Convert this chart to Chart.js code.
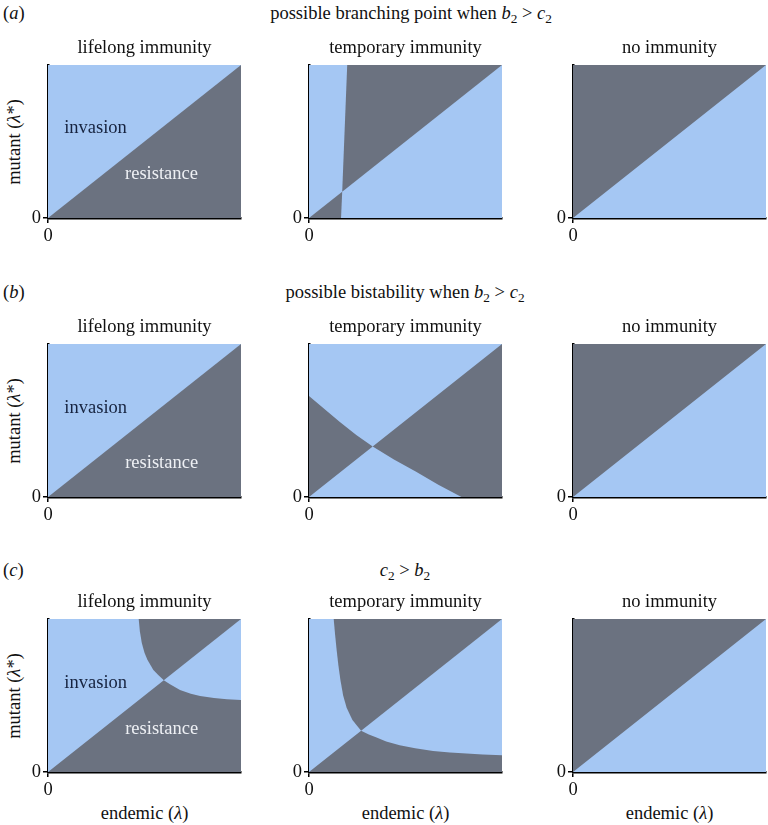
<!DOCTYPE html>
<html><head><meta charset="utf-8">
<script src="https://cdn.jsdelivr.net/npm/chart.js@4.4.1/dist/chart.umd.min.js"></script>
<style>
html,body{margin:0;padding:0;width:768px;height:825px;overflow:hidden;background:#fff;}
body{position:relative;font-family:'Liberation Serif','Times New Roman',Times,'DejaVu Serif',serif;color:#111;}
.t{position:absolute;font-size:18.5px;line-height:22px;white-space:nowrap;}
.s{font-size:0.72em;vertical-align:-0.3em;line-height:0;}
canvas{position:absolute;}
</style></head><body>
<script>
// ---------- data ----------
const panelTitles = ['lifelong immunity', 'temporary immunity', 'no immunity'];
const rowLetters = ['a', 'b', 'c'];
const rowTitles = [
  'possible branching point when <i>b</i><span class="s">2</span> &gt; <i>c</i><span class="s">2</span>',
  'possible bistability when <i>b</i><span class="s">2</span> &gt; <i>c</i><span class="s">2</span>',
  '<i>c</i><span class="s">2</span> &gt; <i>b</i><span class="s">2</span>'
];
const yAxisLabel = 'mutant (<i>λ</i>*)';
const xAxisLabel = 'endemic (<i>λ</i>)';
const tickLabels = ['0'];
const regionLabelText = ['invasion', 'resistance'];
// label anchor points (endemic, mutant) per row, lifelong panel
const invasionPos = [[0.246, 0.585], [0.247, 0.584], [0.247, 0.584]];
const resistancePos = [[0.588, 0.287], [0.589, 0.22], [0.589, 0.279]];

// region boundaries (endemic, mutant)
const fullSquare = [[0, 1], [0, 0], [1, 0], [1, 1]];
const belowDiagonal = [[0, 0], [1, 0], [1, 1]];
const aboveDiagonal = [[0, 1], [0, 0], [1, 1]];
const a2Lower = [[0, 0], [0.166, 0], [0.172, 0.172]];
const a2Upper = [[0.172, 0.172], [0.198, 1], [1, 1]];
const b2Curve = [[0, 0.66], [0.08, 0.575], [0.16, 0.49], [0.245, 0.405], [0.33, 0.33],
                 [0.44, 0.245], [0.555, 0.165], [0.67, 0.08], [0.79, 0]];
const c1UpperBranch = [[0.47, 1], [0.476, 0.92], [0.486, 0.843], [0.50, 0.78], [0.515, 0.733],
                       [0.546, 0.667], [0.57, 0.635], [0.6, 0.6]];
const c1LowerBranch = [[0.6, 0.6], [0.63, 0.575], [0.684, 0.536], [0.74, 0.512], [0.788, 0.497],
                       [0.86, 0.483], [0.927, 0.475], [1, 0.47]];
const c2UpperBranch = [[0.128, 1], [0.135, 0.9], [0.143, 0.8], [0.152, 0.7], [0.163, 0.6],
                       [0.177, 0.5], [0.195, 0.42], [0.225, 0.34], [0.27, 0.27]];
const c2LowerBranch = [[0.27, 0.27], [0.31, 0.245], [0.35, 0.225], [0.40, 0.2], [0.47, 0.175],
                       [0.55, 0.155], [0.643, 0.138], [0.73, 0.128], [0.816, 0.121], [0.9, 0.115], [1, 0.11]];

// ---------- styles / layout ----------
const LIGHT = '#a5c7f3';
const DARK = '#6b7280';
const FONT = "'Liberation Serif', 'Times New Roman', Times, 'DejaVu Serif', serif";
const FS = 18.5;
const colLeft = [48, 309, 573];
const rowTop = [65, 344, 619];
const PW = 193, PH = 153;
const AX_W = 48, TITLE_H = 50, XAX_H = 27, PAD_R = 2;

const darkRegions = [
  [[belowDiagonal], [a2Lower, a2Upper], [aboveDiagonal]],
  [[belowDiagonal],
   [[[0, 0]].concat(b2Curve.slice(0, 5)), b2Curve.slice(4).concat([[1, 0], [1, 1]])],
   [aboveDiagonal]],
  [[c1UpperBranch.concat([[1, 1]]), [[0, 0]].concat(c1LowerBranch, [[1, 0]])],
   [c2UpperBranch.concat([[1, 1]]), [[0, 0]].concat(c2LowerBranch, [[1, 0]])],
   [aboveDiagonal]]
];

function addText(html, x, y, align, rotate) {
  const d = document.createElement('div');
  d.className = 't';
  d.innerHTML = html;
  d.style.left = x + 'px';
  d.style.top = y + 'px';
  let tr = align === 'left' ? 'translate(0,-50%)' : 'translate(-50%,-50%)';
  if (rotate) tr += ' rotate(-90deg)';
  d.style.transform = tr;
  document.body.appendChild(d);
}

function toPts(arr) { return arr.map(p => ({x: p[0], y: p[1]})); }

function makeChart(r, c) {
  const cv = document.createElement('canvas');
  const W = AX_W + PW + PAD_R, H = TITLE_H + PH + XAX_H;
  cv.width = W; cv.height = H;
  cv.style.width = W + 'px'; cv.style.height = H + 'px';
  cv.style.left = (colLeft[c] - AX_W) + 'px';
  cv.style.top = (rowTop[r] - TITLE_H) + 'px';
  document.body.appendChild(cv);

  const datasets = [{
    data: toPts(fullSquare), showLine: true, fill: 'shape', backgroundColor: LIGHT,
    borderColor: 'rgba(0,0,0,0)', borderWidth: 0, pointRadius: 0, order: 10
  }];
  darkRegions[r][c].forEach(poly => datasets.push({
    data: toPts(poly), showLine: true, fill: 'shape', backgroundColor: DARK,
    borderColor: 'rgba(0,0,0,0)', borderWidth: 0, pointRadius: 0, order: 1
  }));

  const labels = c === 0 ? [
    {text: regionLabelText[0], x: invasionPos[r][0], y: invasionPos[r][1], color: '#16233f'},
    {text: regionLabelText[1], x: resistancePos[r][0], y: resistancePos[r][1], color: '#eef0f4'}
  ] : [];
  const labelPlugin = {
    id: 'regionLabels',
    afterDatasetsDraw(chart) {
      const ctx = chart.ctx;
      ctx.save();
      ctx.font = FS + 'px ' + FONT;
      ctx.textAlign = 'center';
      ctx.textBaseline = 'middle';
      labels.forEach(l => {
        ctx.fillStyle = l.color;
        ctx.fillText(l.text, chart.scales.x.getPixelForValue(l.x), chart.scales.y.getPixelForValue(l.y));
      });
      ctx.restore();
    }
  };

  const axisCommon = {
    type: 'linear', min: 0, max: 1, z: 1,
    afterBuildTicks: s => { s.ticks = [{value: 0}]; },
    ticks: {
      font: {family: FONT, size: FS}, color: '#111', maxRotation: 0, autoSkip: false,
      callback: () => tickLabels[0]
    },
    grid: {display: true, drawOnChartArea: false, drawTicks: true, tickLength: 5, color: '#000', lineWidth: 1.5},
    border: {display: true, color: '#000', width: 2.5}
  };

  new Chart(cv, {
    type: 'scatter',
    data: {datasets},
    plugins: [labelPlugin],
    options: {
      responsive: false, animation: false, events: [],
      layout: {padding: {left: 0, right: PAD_R, top: 0, bottom: 0}},
      plugins: {
        legend: {display: false}, tooltip: {enabled: false},
        title: {
          display: true, text: panelTitles[c], fullSize: false,
          font: {family: FONT, size: FS, weight: 'normal'}, color: '#111',
          padding: {top: 21.9, bottom: 5.9}
        }
      },
      scales: {
        x: Object.assign({}, axisCommon, {position: 'bottom',
          ticks: Object.assign({}, axisCommon.ticks, {padding: 2}),
          afterFit: s => { s.height = XAX_H; }}),
        y: Object.assign({}, axisCommon, {position: 'left',
          ticks: Object.assign({}, axisCommon.ticks, {padding: 2}),
          afterFit: s => { s.width = AX_W; }})
      }
    }
  });
}

const rowTitleY = [13, 291.5, 570];
const rowTitleX = [411, 405, 405];
for (let r = 0; r < 3; r++) {
  addText('(<i>' + rowLetters[r] + '</i>)', 3, rowTitleY[r], 'left');
  addText(rowTitles[r], rowTitleX[r], rowTitleY[r], 'center');
  addText(yAxisLabel, 14, rowTop[r] + PH / 2, 'center', true);
  for (let c = 0; c < 3; c++) makeChart(r, c);
}
for (let c = 0; c < 3; c++) addText(xAxisLabel, colLeft[c] + PW / 2, 813, 'center');
</script>
</body></html>
